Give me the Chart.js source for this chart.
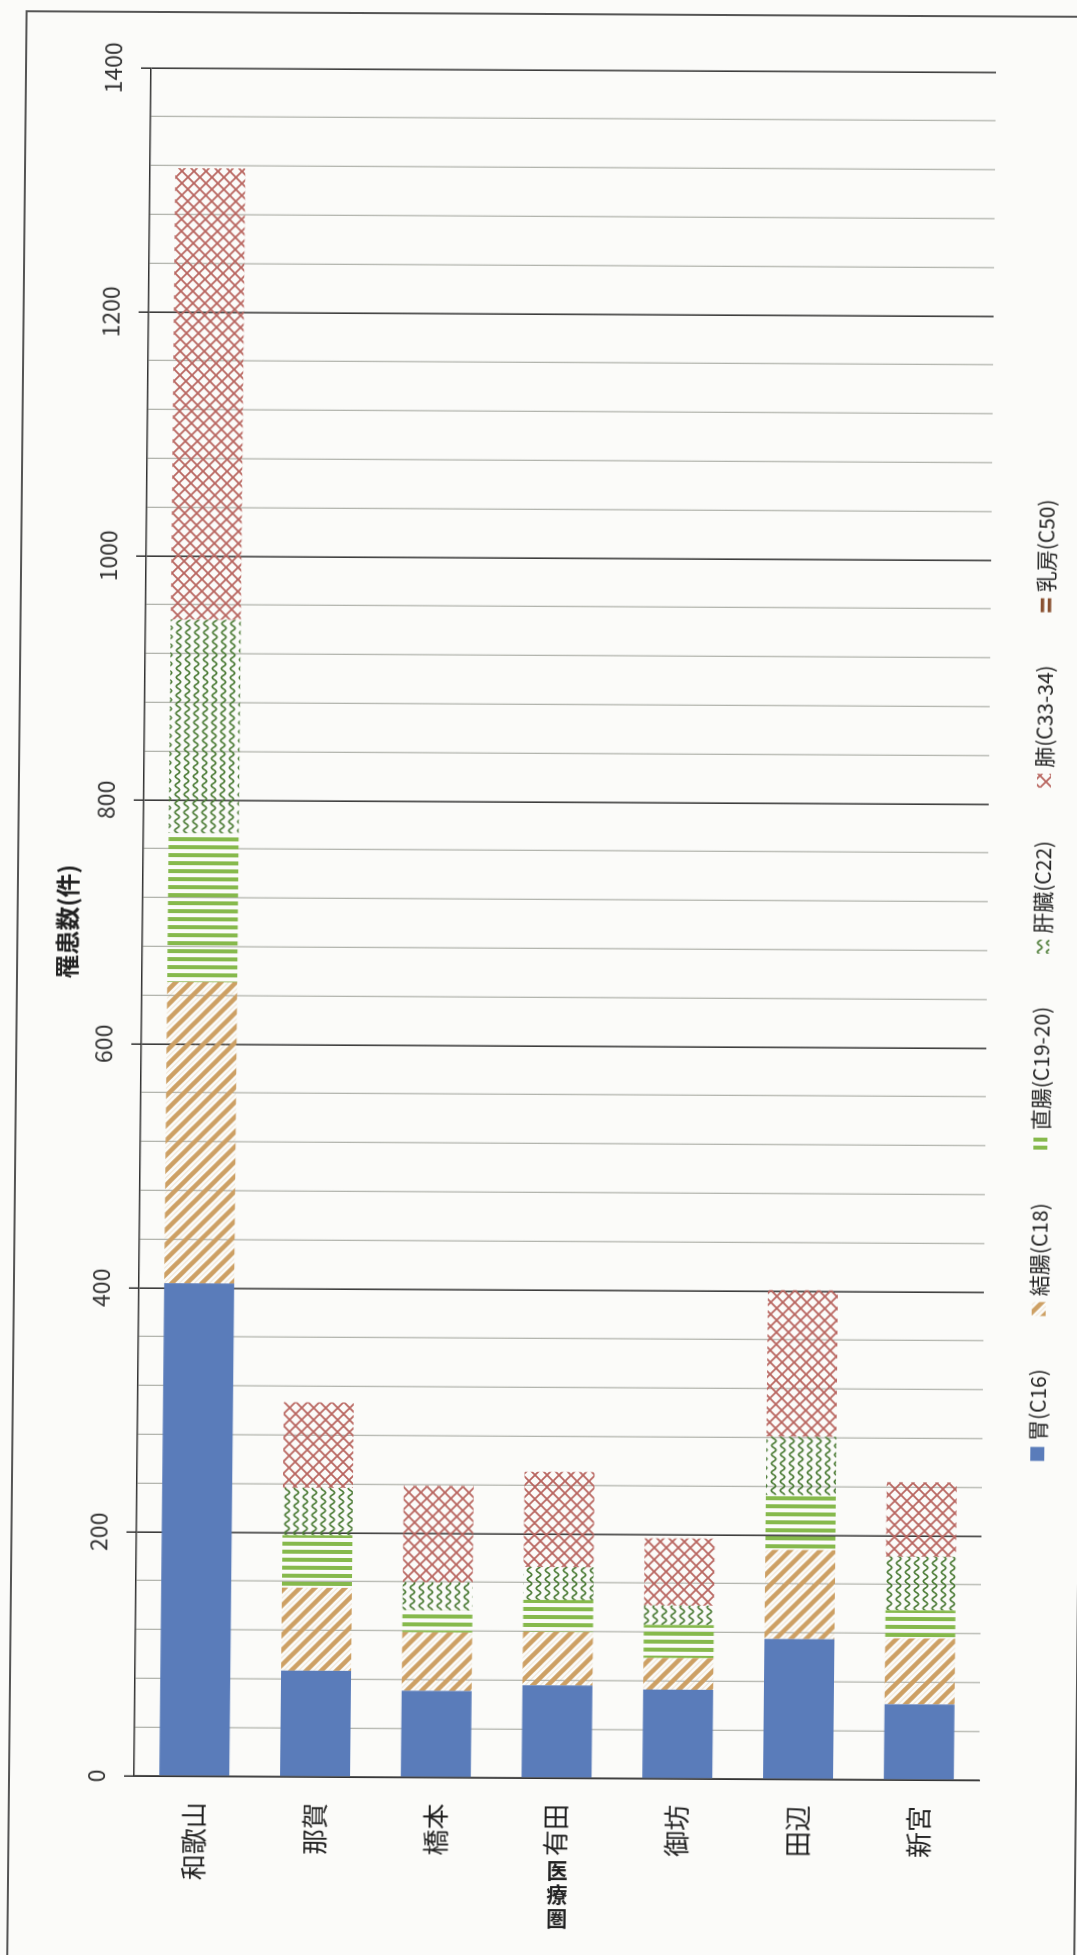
<!DOCTYPE html>
<html>
<head>
<meta charset="utf-8">
<script src="https://cdn.jsdelivr.net/npm/chart.js@4.4.1/dist/chart.umd.min.js"></script>
<style>
  html, body { margin: 0; padding: 0; background: #fbfbf9; }
  body { width: 1077px; height: 1955px; position: relative; overflow: hidden; font-family: "Noto Sans CJK JP", sans-serif; }
  /* スキャン原稿のわずかな傾き・ゆがみを再現 */
  #page { position: absolute; left: 0; top: 0; width: 1077px; height: 1955px; transform-origin: 538px 978px; transform: rotate(0.3deg) skewX(-0.27deg); }
  #frame { position: absolute; left: 16px; top: 13px; width: 1065px; height: 2100px; border: 2px solid #555; }
  #wrap { position: absolute; left: 0; top: 0; width: 1955px; height: 1077px; transform-origin: 0 0; transform: translate(0, 1955px) rotate(-90deg); }
  #catTitle { position: absolute; left: 554px; top: 1857px; width: 24px; font-size: 21px; font-weight: bold; line-height: 24px; text-align: center; color: #222; }
</style>
</head>
<body>
<div id="page">
  <div id="frame"></div>
  <div id="wrap"><canvas id="chart" width="1955" height="1077"></canvas></div>
  <div id="catTitle">医<br>療<br>圏</div>
</div>
<script>
// 医療圏別 部位別罹患数（件）
const categories = ["和歌山", "那賀", "橋本", "有田", "御坊", "田辺", "新宮"];
const seriesNames = ["胃(C16)", "結腸(C18)", "直腸(C19-20)", "肝臓(C22)", "肺(C33-34)", "乳房(C50)"];
const stomach = [404, 87, 71, 76, 73, 115, 62];
const colon = [247, 68, 48, 44, 26, 73, 54];
const rectum = [122, 43, 18, 26, 27, 45, 23];
const liver = [175, 39, 23, 27, 16, 48, 44];
const lung = [370, 70, 79, 78, 55, 120, 61];
const breast = [0, 0, 0, 0, 0, 0, 0]; // 凡例のみ（棒には現れない）
const valueMax = 1400;
const majorStep = 200;
const minorStep = 40;

const FONT = '"Noto Sans CJK JP", "Noto Sans", sans-serif';

function makePattern(w, h, draw) {
  const c = document.createElement("canvas");
  c.width = w;
  c.height = h;
  const g = c.getContext("2d");
  draw(g, w, h);
  return g.createPattern(c, "repeat");
}

// チャートは -90° 回転して表示するので、模様は回転前の向きで作る
const blueFill = "#5a7cba";
const diagFill = makePattern(15, 15, (g, s) => {
  g.strokeStyle = "rgba(205,160,100,0.35)";
  g.lineWidth = 1;
  for (let k = -1; k <= 1; k++) {
    g.beginPath();
    g.moveTo(k * s + s / 2 - 3, -3);
    g.lineTo(k * s + s / 2 + s + 3, s + 3);
    g.stroke();
  }
  g.strokeStyle = "#cda064";
  g.lineWidth = 4.5;
  for (let k = -1; k <= 1; k++) {
    g.beginPath();
    g.moveTo(k * s - 3, -3);
    g.lineTo(k * s + s + 3, s + 3);
    g.stroke();
  }
});
const stripeFill = makePattern(8, 8, (g) => {
  g.fillStyle = "#86b94c";
  g.fillRect(0, 0, 4, 8);
});
const waveFill = makePattern(9, 9, (g) => {
  g.strokeStyle = "#4a7a34";
  g.lineWidth = 1.6;
  g.beginPath();
  for (let x = -1; x <= 10; x += 0.5) {
    const y = 4.5 + 2.2 * Math.sin((2 * Math.PI * x) / 9);
    if (x === -1) g.moveTo(x, y); else g.lineTo(x, y);
  }
  g.stroke();
});
const crossFill = makePattern(12, 12, (g) => {
  g.strokeStyle = "#b8655f";
  g.lineWidth = 1.8;
  g.beginPath();
  g.moveTo(-1, -1); g.lineTo(13, 13);
  g.moveTo(13, -1); g.lineTo(-1, 13);
  g.stroke();
});
const breastFill = makePattern(7, 7, (g) => {
  g.fillStyle = "#8a5232";
  g.fillRect(0, 1, 7, 3.5);
});

const fills = [blueFill, diagFill, stripeFill, waveFill, crossFill, breastFill];
const values = [stomach, colon, rectum, liver, lung, breast];

const legendPlugin = {
  id: "sideLegend",
  afterDraw(chart) {
    const ctx = chart.ctx;
    const box = 14, gapText = 6, itemGap = 53;
    ctx.save();
    ctx.font = "21px " + FONT;
    ctx.textBaseline = "middle";
    const widths = seriesNames.map((n) => box + gapText + ctx.measureText(n).width);
    const total = widths.reduce((a, b) => a + b, 0) + itemGap * (widths.length - 1);
    let x = chart.width / 2 - total / 2;
    const y = 1042;
    seriesNames.forEach((name, i) => {
      ctx.fillStyle = fills[i];
      ctx.fillRect(x, y - box / 2, box, box);
      ctx.fillStyle = "#222";
      ctx.fillText(name, x + box + gapText, y);
      x += widths[i] + itemGap;
    });
    ctx.restore();
  },
};

const isMajor = (c) => c.tick && c.tick.value % majorStep === 0;

new Chart(document.getElementById("chart"), {
  type: "bar",
  data: {
    labels: categories,
    datasets: seriesNames.map((name, i) => ({
      label: name,
      data: values[i],
      backgroundColor: fills[i],
      borderWidth: 0,
      barPercentage: 0.58,
      categoryPercentage: 1,
    })),
  },
  options: {
    indexAxis: "y",
    responsive: false,
    animation: false,
    layout: { padding: { top: 30, left: 20, right: 70, bottom: 90 } },
    plugins: { legend: { display: false }, tooltip: { enabled: false } },
    scales: {
      x: {
        position: "top",
        stacked: true,
        min: 0,
        max: valueMax,
        ticks: {
          stepSize: minorStep,
          autoSkip: false,
          maxRotation: 0,
          padding: 14,
          color: "#333",
          font: { family: FONT, size: 23 },
          callback: (v) => (v % majorStep === 0 ? v : ""),
        },
        grid: {
          color: (c) => (isMajor(c) ? "#3c3c3c" : "#b3b5ae"),
          lineWidth: (c) => (isMajor(c) ? 1.6 : 1.3),
          tickLength: 10,
          tickColor: (c) => (isMajor(c) ? "#3c3c3c" : "rgba(0,0,0,0)"),
        },
        border: { color: "#333", width: 1.6 },
        title: {
          display: true,
          text: "罹患数(件)",
          color: "#222",
          font: { family: FONT, size: 24, weight: "bold" },
          padding: { top: 22, bottom: 0 },
        },
        afterFit: (s) => { s.height = 112; },
      },
      y: {
        stacked: true,
        grid: { display: false, drawTicks: false },
        border: { display: true, color: "#333", width: 1.6 },
        ticks: { padding: 26, color: "#222", font: { family: FONT, size: 26 } },
        afterFit: (s) => { s.width = 157; },
      },
    },
  },
  plugins: [legendPlugin],
});
</script>
</body>
</html>
